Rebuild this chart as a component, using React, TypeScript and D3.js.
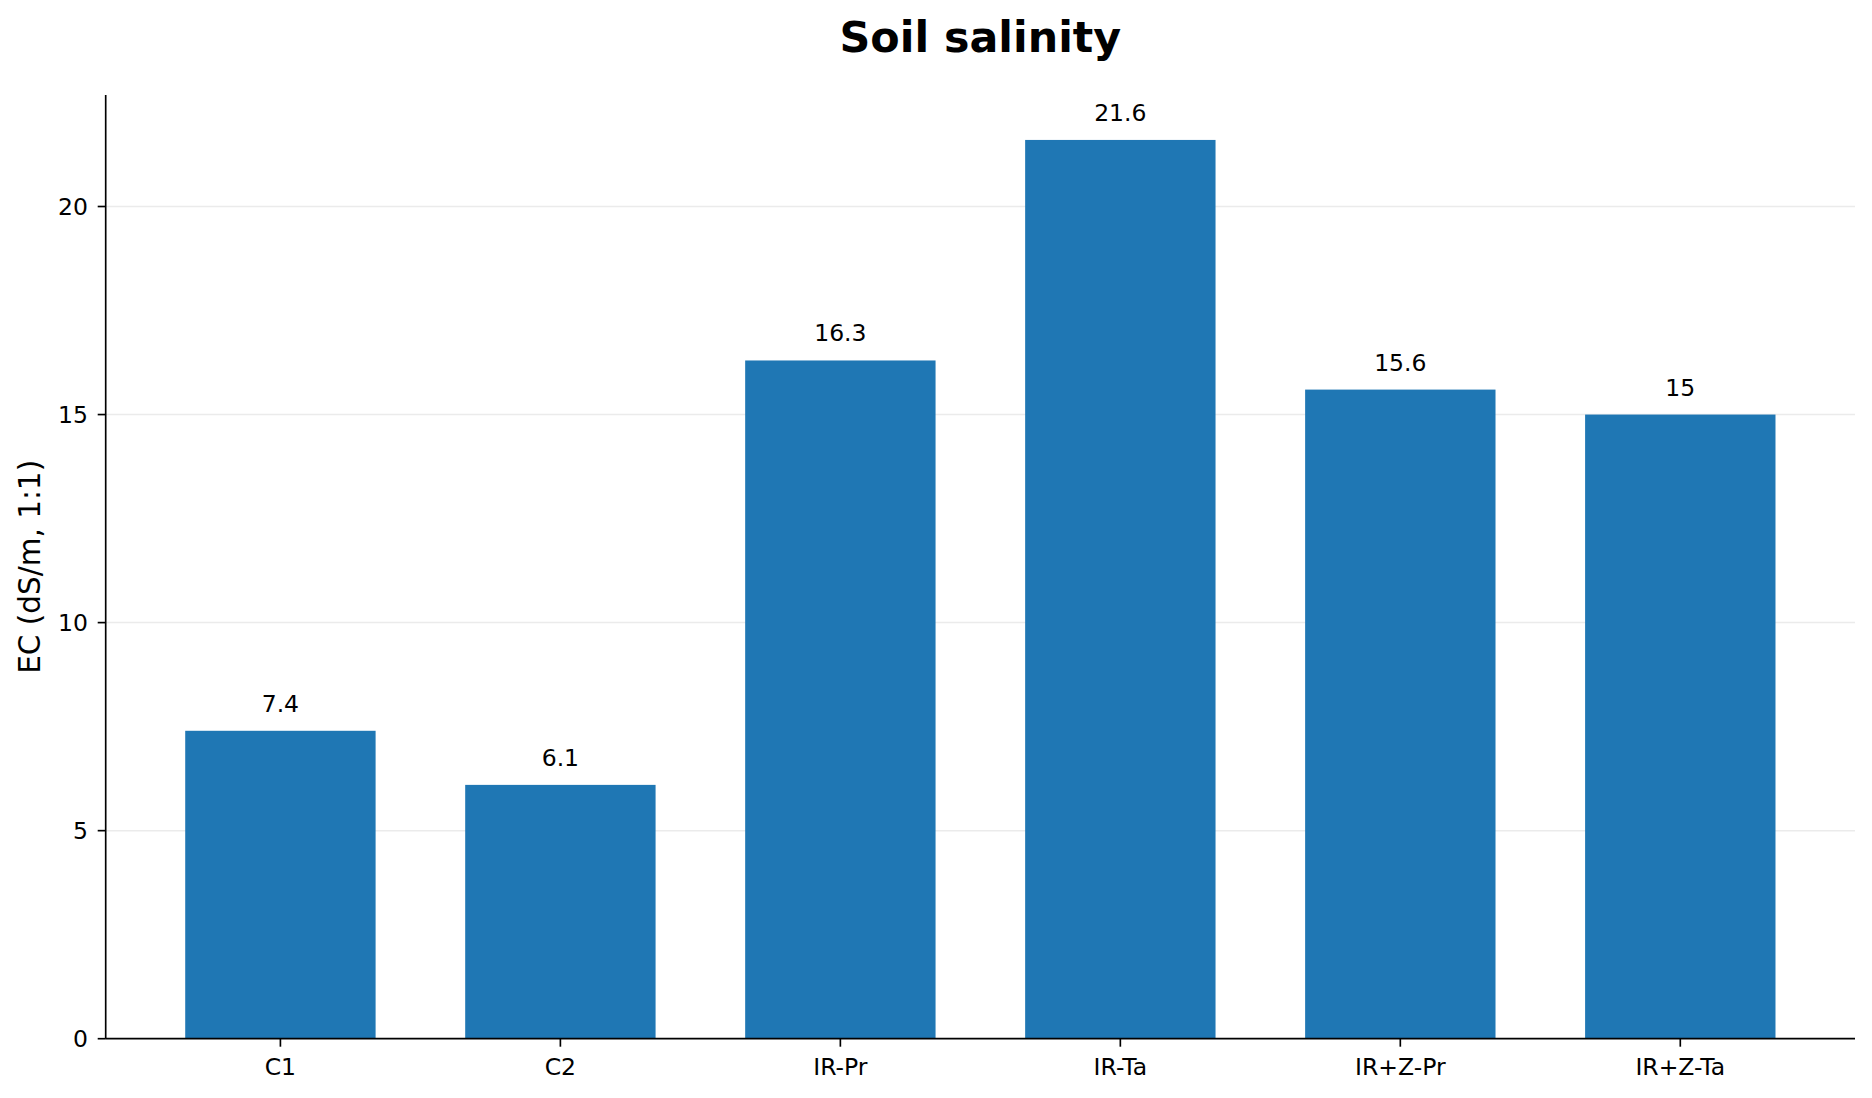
import React from "react";
import * as d3 from "d3";

const categories = ["C1", "C2", "IR-Pr", "IR-Ta", "IR+Z-Pr", "IR+Z-Ta"];
const values = [7.4, 6.1, 16.3, 21.6, 15.6, 15];
const yTicks = [0, 5, 10, 15, 20];
const valueLabels = ["7.4", "6.1", "16.3", "21.6", "15.6", "15"];

const W = 1872;
const H = 1098;
const M = { left: 105.7, right: 1855, top: 95, bottom: 1038.7 };
const FONT = "'DejaVu Sans', sans-serif";
const TICK_FS = 23.5;

export default function App() {
  const barW = 0.68;
  const n = categories.length;
  const pad = 0.05 * (n - 1 + barW);
  const x = d3
    .scaleLinear()
    .domain([-barW / 2 - pad, n - 1 + barW / 2 + pad])
    .range([M.left, M.right]);
  const yMax = d3.max(values)! * 1.05;
  const y = d3.scaleLinear().domain([0, yMax]).range([M.bottom, M.top]);
  const bw = x(barW) - x(0);

  return (
    <div style={{ position: "absolute", left: 0, top: 0 }}>
      <svg width={W} height={H} style={{ display: "block", background: "#fff" }} fontFamily={FONT}>
        <rect width={W} height={H} fill="#fff" />
        {yTicks
          .filter((t) => t > 0)
          .map((t) => (
            <line key={"g" + t} x1={M.left} x2={M.right} y1={y(t)} y2={y(t)} stroke="#ebebeb" strokeWidth={1.5} />
          ))}
        {values.map((v, i) => (
          <rect key={"b" + i} x={x(i) - bw / 2} y={y(v)} width={bw} height={y(0) - y(v)} fill="#1f77b4" />
        ))}
        {values.map((v, i) => (
          <text key={"v" + i} x={x(i)} y={y(v) - 19} textAnchor="middle" fontSize={TICK_FS} fill="#000">
            {valueLabels[i]}
          </text>
        ))}
        {/* y axis */}
        <line x1={M.left} x2={M.left} y1={M.top} y2={M.bottom} stroke="#000" strokeWidth={1.67} />
        {yTicks.map((t) => (
          <g key={"yt" + t}>
            <line x1={M.left - 8} x2={M.left} y1={y(t)} y2={y(t)} stroke="#000" strokeWidth={1.67} />
            <text x={88} y={y(t)} dy="0.36em" textAnchor="end" fontSize={TICK_FS} fill="#000">
              {t}
            </text>
          </g>
        ))}
        {/* x axis */}
        <line x1={M.left} x2={M.right} y1={M.bottom} y2={M.bottom} stroke="#000" strokeWidth={1.67} />
        {categories.map((c, i) => (
          <g key={"xt" + i}>
            <line x1={x(i)} x2={x(i)} y1={M.bottom} y2={M.bottom + 8} stroke="#000" strokeWidth={1.67} />
            <text x={x(i)} y={1075} textAnchor="middle" fontSize={TICK_FS} fill="#000">
              {c}
            </text>
          </g>
        ))}
        <text
          transform={`translate(40, ${(M.top + M.bottom) / 2}) rotate(-90)`}
          textAnchor="middle"
          fontSize={29.5}
          fill="#000"
        >
          EC (dS/m, 1:1)
        </text>
        <text x={(M.left + M.right) / 2} y={52} textAnchor="middle" fontSize={42.8} fontWeight="bold" fill="#000">
          Soil salinity
        </text>
      </svg>
    </div>
  );
}
